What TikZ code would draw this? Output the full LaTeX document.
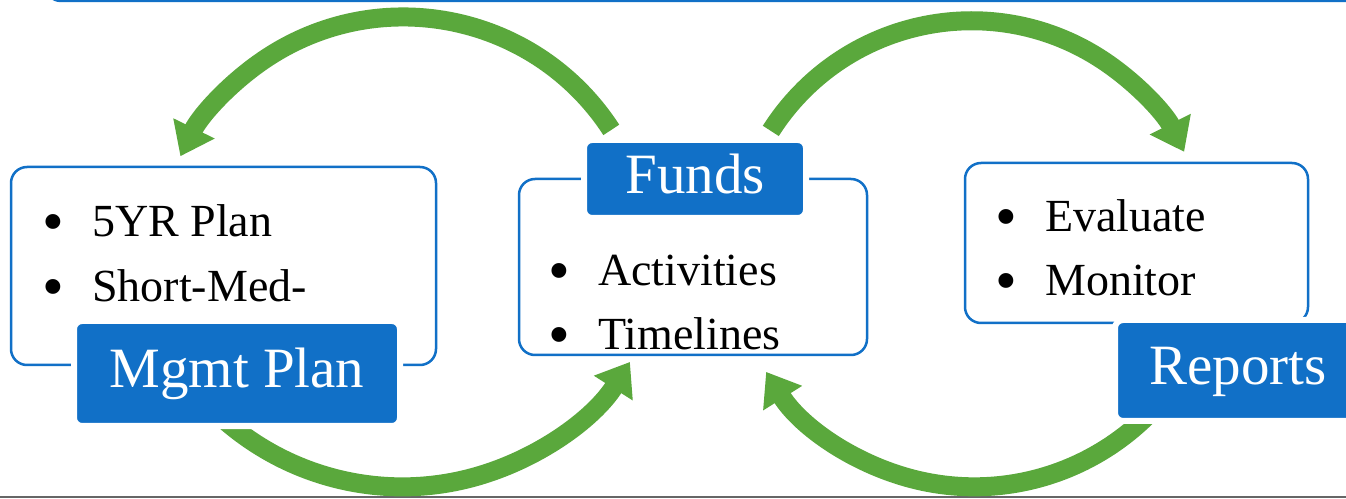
\documentclass[tikz,border=0pt]{standalone}
\usepackage{fontspec}
\setmainfont{Liberation Serif}
\usepackage{tikz}
\usetikzlibrary{arrows.meta, positioning}

\definecolor{planblue}{RGB}{17,112,199}
\definecolor{flowgreen}{RGB}{90,168,60}
\newcommand{\bul}[1]{\makebox[50pt][l]{\raisebox{-6pt}{\scalebox{1.35}{\textbullet}}}#1}

\begin{document}
\begin{tikzpicture}[x=1pt,y=1pt,>={Triangle[length=31pt,width=44pt]},
        panel/.style={draw=planblue,line width=2.5pt,rounded corners=16pt,fill=white,inner sep=0pt},
        tag/.style={fill=planblue,draw=white,line width=6pt,rounded corners=8pt,text=white,
          inner sep=0pt,text height=40pt,text depth=11pt,font=\fontsize{57}{60}\selectfont},
        item/.style={anchor=base west,inner sep=0pt,font=\fontsize{46}{50}\selectfont},
        flow/.style={->,draw=flowgreen,line width=19pt}]

  \fill[white] (0,0) rectangle (1346,498);
  \clip (0,0) rectangle (1346,498);

  % frame lines
  \node[panel, minimum width=1400pt, minimum height=80pt] (top) at (745,537) {};
  \draw[black!60, line width=2pt] (0,1) -- (1346,1);

  % boxes
  \node[panel, minimum width=425pt, minimum height=198pt] (plan)    at (223.5,232) {};
  \node[panel, minimum width=348pt, minimum height=176pt] (funds)   at (693,231) {};
  \node[panel, minimum width=343pt, minimum height=160pt] (reports) at (1136.5,255) {};

  % arrows
  \coordinate (f_1) at (611.3,368.1);
  \coordinate (f_2) at (770.8,367.1);
  \coordinate (f_3) at (211.3,90.2);
  \coordinate (f_4) at (1154.2,89.4);
  \draw[flow] (f_1) arc[start angle=33,  end angle=154,   radius=248];
  \draw[flow] (f_2) arc[start angle=147.5, end angle=26.7, radius=238];
  \draw[flow] (f_3) arc[start angle=225, end angle=327.5, radius=270];
  \draw[flow] (f_4) arc[start angle=317, end angle=212.2, radius=246];

  % labels
  \node[tag, minimum width=326pt, minimum height=105pt] (plan_tag)    at (237,124.5) {Mgmt Plan};
  \node[tag, minimum width=222pt, minimum height=78pt]  (funds_tag)   at (695,319)   {Funds};
  \node[tag, minimum width=246pt, minimum height=101pt] (reports_tag) at (1238,127.5) {Reports};

  % items
  \node[item] (plan_1)    at (42,261)  {\bul{5YR Plan}};
  \node[item] (plan_2)    at (42,196)  {\bul{Short-Med-}};
  \node[item] (funds_1)   at (548,212) {\bul{Activities}};
  \node[item] (funds_2)   at (548,148) {\bul{Timelines}};
  \node[item] (reports_1) at (995,266) {\bul{Evaluate}};
  \node[item] (reports_2) at (995,202) {\bul{Monitor}};
\end{tikzpicture}
\end{document}
